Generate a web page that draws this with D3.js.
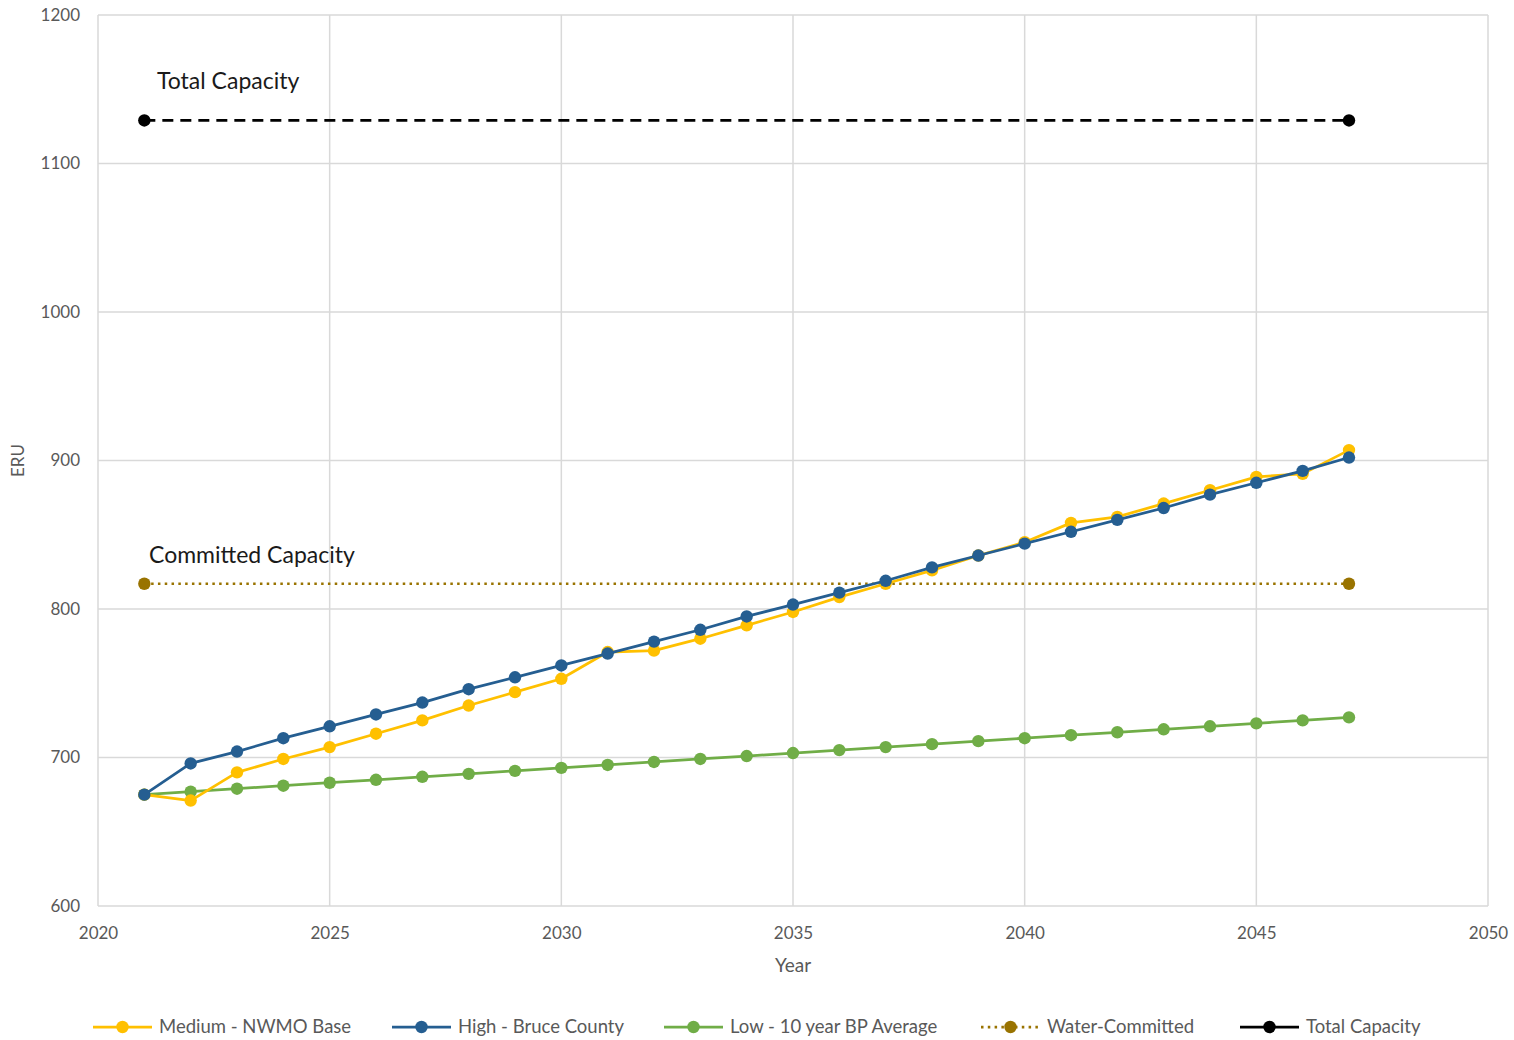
<!DOCTYPE html>
<html>
<head>
<meta charset="utf-8">
<script src="https://cdn.jsdelivr.net/npm/d3@7"></script>
<style>
  html, body { margin: 0; padding: 0; background: #fff; }
  svg { display: block; font-family: Lato, "Open Sans", sans-serif; }
</style>
</head>
<body>
<svg id="chart" width="1514" height="1040"></svg>
<script>
// ERU projections by growth scenario, 2021–2047
const years = [2021, 2022, 2023, 2024, 2025, 2026, 2027, 2028, 2029, 2030,
               2031, 2032, 2033, 2034, 2035, 2036, 2037, 2038, 2039, 2040,
               2041, 2042, 2043, 2044, 2045, 2046, 2047];
const medium = [675, 671, 690, 699, 707, 716, 725, 735, 744, 753,
                771, 772, 780, 789, 798, 808, 817, 826, 836, 845,
                858, 862, 871, 880, 889, 891, 907];
const high   = [675, 696, 704, 713, 721, 729, 737, 746, 754, 762,
                770, 778, 786, 795, 803, 811, 819, 828, 836, 844,
                852, 860, 868, 877, 885, 893, 902];
const low    = [675, 677, 679, 681, 683, 685, 687, 689, 691, 693,
                695, 697, 699, 701, 703, 705, 707, 709, 711, 713,
                715, 717, 719, 721, 723, 725, 727];
const capacityYears = [2021, 2047];
const committed = [817, 817];
const totalCapacity = [1129, 1129];

const xTicks = [2020, 2025, 2030, 2035, 2040, 2045, 2050];
const yTicks = [600, 700, 800, 900, 1000, 1100, 1200];

const seriesNames = ["Medium - NWMO Base", "High - Bruce County", "Low - 10 year BP Average",
                     "Water-Committed", "Total Capacity"];
const colors = ["#FFC000", "#255E91", "#70AD47", "#997300", "#000000"];

const svg = d3.select("#chart");
const margin = { left: 98, top: 15, right: 26, bottom: 134 };
const W = 1514, H = 1040;
const x = d3.scaleLinear().domain([2020, 2050]).range([margin.left, W - margin.right]);
const y = d3.scaleLinear().domain([600, 1200]).range([H - margin.bottom, margin.top]);

// gridlines
const grid = svg.append("g");
grid.selectAll("line.h").data(yTicks).join("line")
  .attr("x1", x(2020)).attr("x2", x(2050))
  .attr("y1", d => y(d)).attr("y2", d => y(d))
  .attr("stroke", "#d9d9d9").attr("stroke-width", 1.5);
grid.selectAll("line.v").data(xTicks).join("line")
  .attr("y1", y(600)).attr("y2", y(1200))
  .attr("x1", d => x(d)).attr("x2", d => x(d))
  .attr("stroke", "#d9d9d9").attr("stroke-width", 1.5);

// axes
const xAxis = svg.append("g").attr("transform", `translate(0,${y(600)})`)
  .call(d3.axisBottom(x).tickValues(xTicks).tickFormat(d3.format("d")).tickSize(0).tickPadding(21));
const yAxis = svg.append("g").attr("transform", `translate(${x(2020)},0)`)
  .call(d3.axisLeft(y).tickValues(yTicks).tickFormat(d3.format("d")).tickSize(0).tickPadding(18));
[xAxis, yAxis].forEach(a => {
  a.select(".domain").remove();
  a.selectAll("text").attr("fill", "#595959").style("font-size", "17px")
    .style("font-family", "Lato, 'Open Sans', sans-serif");
});
yAxis.selectAll("text").attr("dy", "0.32em");

svg.append("text").attr("x", x(2035)).attr("y", 972).attr("text-anchor", "middle")
  .attr("fill", "#595959").style("font-size", "19px").text("Year");
svg.append("text").attr("transform", `translate(24,${y(900)}) rotate(-90)`)
  .attr("text-anchor", "middle").attr("fill", "#595959").style("font-size", "17px").text("ERU");

const line = d3.line().x(d => x(d[0])).y(d => y(d[1]));

// capacity reference lines
const totalPts = capacityYears.map((yr, i) => [yr, totalCapacity[i]]);
const committedPts = capacityYears.map((yr, i) => [yr, committed[i]]);
svg.append("path").datum(totalPts).attr("d", line).attr("fill", "none")
  .attr("stroke", colors[4]).attr("stroke-width", 2.75).attr("stroke-dasharray", "11,7");
svg.append("path").datum(committedPts).attr("d", line).attr("fill", "none")
  .attr("stroke", colors[3]).attr("stroke-width", 2.5).attr("stroke-dasharray", "2.5,4.3");

// scenario lines: low first, then medium, with high drawn on top
const scenarios = [
  { values: low, color: colors[2] },
  { values: medium, color: colors[0] },
  { values: high, color: colors[1] }
];
scenarios.forEach(s => {
  const pts = years.map((yr, i) => [yr, s.values[i]]);
  const g = svg.append("g");
  g.append("path").datum(pts).attr("d", line).attr("fill", "none")
    .attr("stroke", s.color).attr("stroke-width", 2.75).attr("stroke-linejoin", "round");
  g.selectAll("circle").data(pts).join("circle")
    .attr("cx", d => x(d[0])).attr("cy", d => y(d[1])).attr("r", 6.2)
    .attr("fill", s.color);
});

// capacity end markers
svg.selectAll("circle.tc").data(totalPts).join("circle").attr("class", "tc")
  .attr("cx", d => x(d[0])).attr("cy", d => y(d[1])).attr("r", 6.2).attr("fill", colors[4]);
svg.selectAll("circle.cc").data(committedPts).join("circle").attr("class", "cc")
  .attr("cx", d => x(d[0])).attr("cy", d => y(d[1])).attr("r", 6.2).attr("fill", colors[3]);

// annotations
svg.append("text").attr("x", 157).attr("y", y(totalCapacity[0]) - 31)
  .attr("fill", "#1a1a1a").style("font-size", "23px").text("Total Capacity");
svg.append("text").attr("x", 149).attr("y", y(committed[0]) - 21)
  .attr("fill", "#1a1a1a").style("font-size", "23px").text("Committed Capacity");

// legend
const legendX = [93, 392, 664, 981, 1240];
const legend = svg.append("g");
seriesNames.forEach((name, i) => {
  const g = legend.append("g").attr("transform", `translate(${legendX[i]},1027)`);
  const ln = g.append("line").attr("x1", 0).attr("x2", 59).attr("y1", 0).attr("y2", 0)
    .attr("stroke", colors[i]).attr("stroke-width", 2.75);
  if (i === 3) ln.attr("stroke-dasharray", "2.5,4.3");
  g.append("circle").attr("cx", 29.5).attr("cy", 0).attr("r", 6.2).attr("fill", colors[i]);
  g.append("text").attr("x", 66).attr("y", 0).attr("dy", "0.35em")
    .attr("fill", "#595959").style("font-size", "18.5px").text(name);
});
</script>
</body>
</html>
